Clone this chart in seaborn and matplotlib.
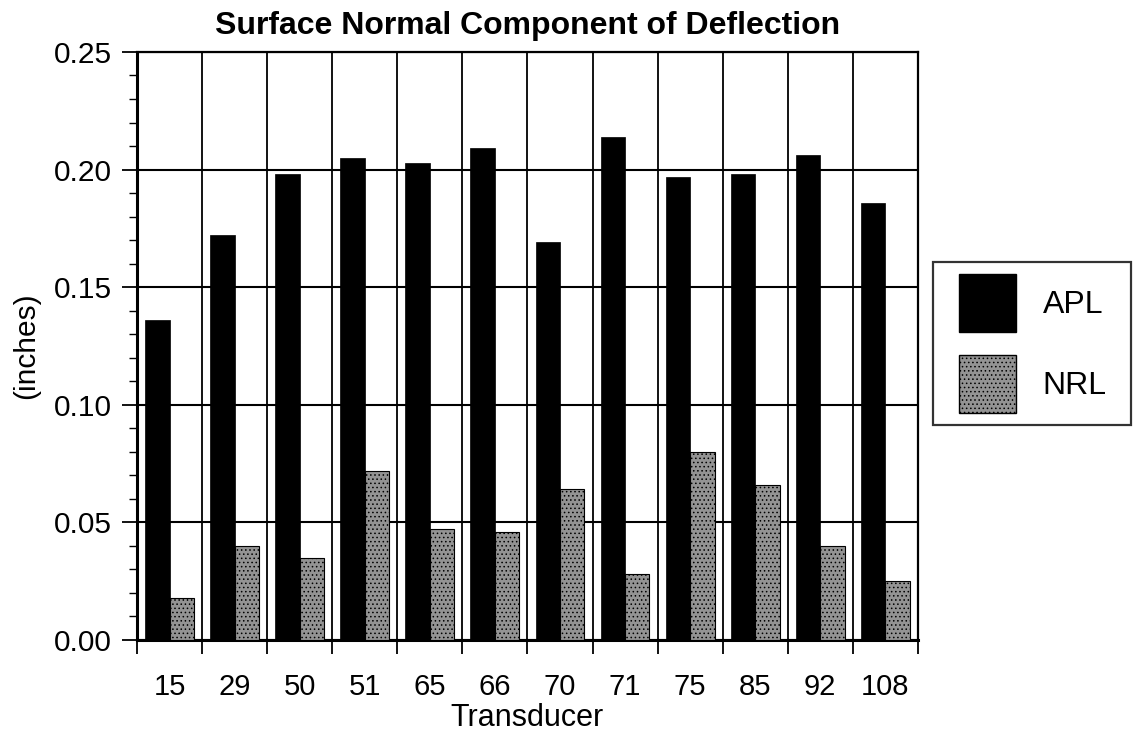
import pandas as pd
import numpy as np
import matplotlib
matplotlib.use("Agg")
import matplotlib.pyplot as plt
import matplotlib.patches as mpatches
from matplotlib.legend_handler import HandlerPatch
import seaborn as sns

# values
transducers = ["15", "29", "50", "51", "65", "66", "70", "71", "75", "85", "92", "108"]
apl = [0.136, 0.172, 0.198, 0.205, 0.203, 0.209, 0.169, 0.214, 0.197, 0.198, 0.206, 0.186]
nrl = [0.018, 0.040, 0.035, 0.072, 0.047, 0.046, 0.064, 0.028, 0.080, 0.066, 0.040, 0.025]
series = ["APL", "NRL"]
yticks = [0.00, 0.05, 0.10, 0.15, 0.20, 0.25]

df = pd.DataFrame({
    "Transducer": transducers * 2,
    "value": apl + nrl,
    "lab": [series[0]] * len(apl) + [series[1]] * len(nrl),
})

sns.set_style("white")
plt.rcParams['font.family'] = ['Liberation Sans', 'DejaVu Sans']
plt.rcParams['hatch.linewidth'] = 0.6
for k in ["text.color", "axes.labelcolor", "xtick.color", "ytick.color"]:
    plt.rcParams[k] = "black"

fig = plt.figure(figsize=(11.35, 7.31), dpi=100)
ax = fig.add_axes([0.1207, 0.1245, 0.688, 0.8044])

gray = "#939393"
pal = {"APL": "black", "NRL": gray}
sns.barplot(data=df, x="Transducer", y="value", hue="lab",
            order=transducers, hue_order=series, palette=pal,
            width=0.75, saturation=1, ax=ax, legend=False, zorder=3)

# stippled look for NRL bars
for p in ax.containers[1]:
    p.set_hatch("....")
    p.set_edgecolor("black")
    p.set_linewidth(0.8)
for p in ax.containers[0]:
    p.set_edgecolor("black")
    p.set_linewidth(0.5)

ax.set_xlim(-0.5, len(transducers) - 0.5)
ax.set_ylim(0, 0.25)

# labels in the middle of categories, ticks/grid on category boundaries
ax.set_xticks(np.arange(len(transducers)))
ax.set_xticklabels(transducers)
ax.set_xticks(np.arange(-0.5, len(transducers)), minor=True)
ax.tick_params(axis="x", which="major", length=0, pad=24, labelsize=21)
ax.tick_params(axis="x", which="minor", length=10, width=1.3, direction="out",
               color="black", bottom=True)

ax.set_yticks(yticks)
ax.set_yticklabels([f"{v:.2f}" for v in yticks])
ax.set_yticks(np.arange(0, 0.2501, 0.01), minor=True)
ax.tick_params(axis="y", which="major", length=11, width=1.3, direction="out",
               labelsize=21.5, pad=7, left=True, color="black")
ax.tick_params(axis="y", which="minor", length=5.5, width=1.0, direction="out",
               left=True, color="black")

ax.grid(True, axis="x", which="minor", color="black", linewidth=1.3, zorder=1)
ax.grid(True, axis="y", which="major", color="black", linewidth=1.5, zorder=1)
ax.set_axisbelow(True)

for s in ax.spines.values():
    s.set_color("black")
    s.set_linewidth(1.6)
ax.spines["left"].set_linewidth(2.2)
ax.spines["bottom"].set_linewidth(2.2)

ax.set_xlabel("Transducer", fontsize=22, labelpad=1)
ax.set_ylabel("(inches)", fontsize=21.5, labelpad=10)
ax.set_title("Surface Normal Component of Deflection", fontsize=23, fontweight="bold", pad=13)


def offset_patch(legend, orig_handle, xdescent, ydescent, width, height, fontsize):
    # leave extra room on the left of the swatch, like the original box
    off = 10
    return mpatches.Rectangle((-xdescent + off, -ydescent), width - off, height)


handles = [mpatches.Patch(facecolor="black", edgecolor="black", label="APL"),
           mpatches.Patch(facecolor=gray, edgecolor="black", hatch="....", label="NRL")]
# fixed-width box: 933..1132 px
leg = ax.legend(handles=handles, loc="center left",
                bbox_to_anchor=(0.822, 0.530, 0.1745, 0), mode="expand",
                bbox_transform=fig.transFigure, fontsize=23, frameon=True, fancybox=False,
                handlelength=2.22, handleheight=2.42, handletextpad=0.85,
                labelspacing=0.72, borderpad=0.37, borderaxespad=0,
                handler_map={mpatches.Patch: HandlerPatch(patch_func=offset_patch)})
leg.get_frame().set_edgecolor("black")
leg.get_frame().set_linewidth(1.6)

fig.savefig("out.png", dpi=100)
